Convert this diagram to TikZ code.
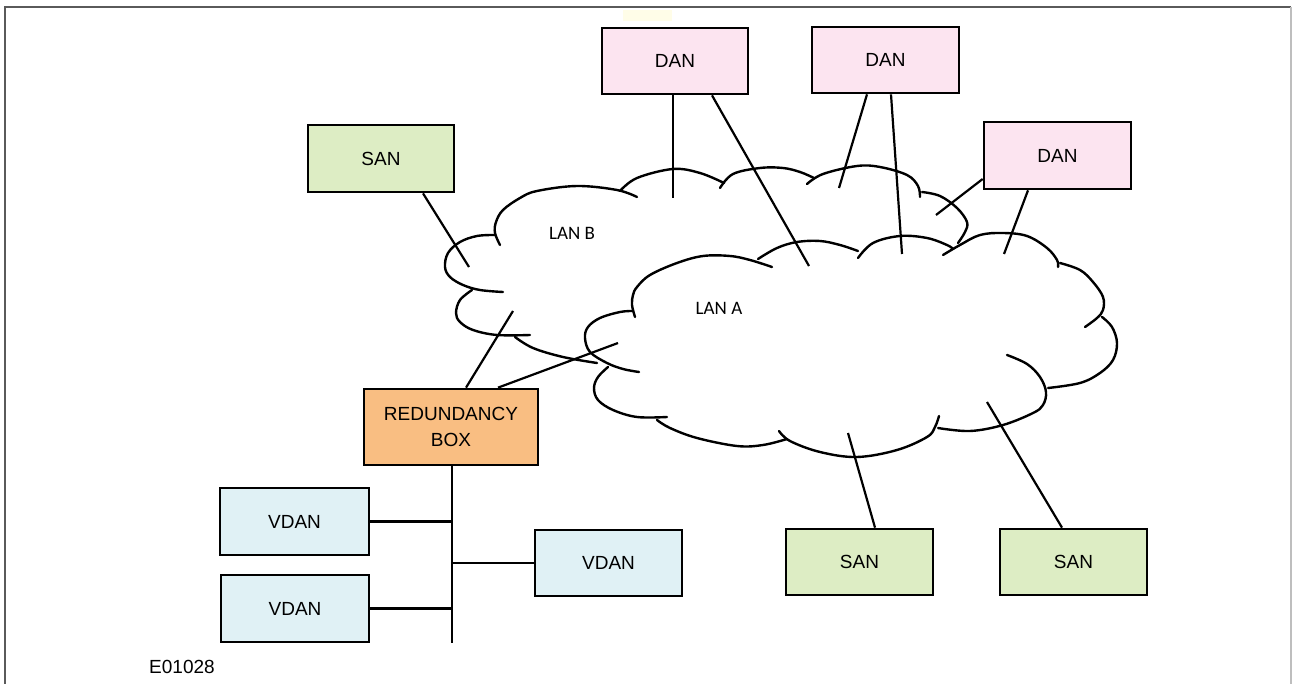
\documentclass[tikz,border=0pt]{standalone}
\usepackage{fontspec}
\setmainfont{Liberation Sans}
\newfontfamily\calib{Carlito}
\usetikzlibrary{calc}
\definecolor{sanfill}{HTML}{DDEDC4}
\definecolor{danfill}{HTML}{FCE4F0}
\definecolor{redfill}{HTML}{F9BE82}
\definecolor{vdanfill}{HTML}{E0F1F5}
\definecolor{frameA}{RGB}{90,90,90}
\definecolor{frameB}{RGB}{190,190,190}
\definecolor{faint}{RGB}{255,253,232}
\begin{document}
\begin{tikzpicture}[x=1pt,y=-1pt,
  box/.style={draw=black, line width=2.7pt, inner sep=0pt, align=center,
    font=\fontsize{19}{26}\selectfont},
  sanbox/.style={box, fill=sanfill},
  danbox/.style={box, fill=danfill},
  vdanbox/.style={box, fill=vdanfill},
  redbox/.style={box, fill=redfill},
  conn/.style={line width=2.2pt},
  cl/.style={line width=2.4pt, line cap=round},
  lanlabel/.style={inner sep=0pt, font=\calib\fontsize{19}{23}\selectfont}]
\useasboundingbox (0,0) rectangle (1292,684);
\fill[faint] (623,10) rectangle (672,21);
% frame
\draw[frameA, line width=2pt] (5,690) -- (5,7) -- (1291,7);
\draw[frameB, line width=1.5pt] (1291,7) -- (1291,690);

% boxes
\node[sanbox, minimum width=146pt, minimum height=67pt] (sanTL) at (381,158.5) {SAN};
\node[danbox, minimum width=146pt, minimum height=66pt] (dan1) at (675,61) {DAN};
\node[danbox, minimum width=147pt, minimum height=66pt] (dan2) at (885.5,60) {DAN};
\node[danbox, minimum width=147pt, minimum height=67pt] (dan3) at (1057.5,155.5) {DAN};
\node[redbox, minimum width=174pt, minimum height=76pt] (red) at (451,427) {REDUNDANCY\\BOX};
\node[vdanbox, minimum width=147pt, minimum height=66pt] (vdanR) at (608.5,563) {VDAN};
\node[vdanbox, minimum width=149pt, minimum height=67pt] (vdanA) at (294.5,521.5) {VDAN};
\node[vdanbox, minimum width=148pt, minimum height=67pt] (vdanB) at (295,608.5) {VDAN};
\node[sanbox, minimum width=147pt, minimum height=66pt] (san1) at (859.5,562) {SAN};
\node[sanbox, minimum width=147pt, minimum height=66pt] (san2) at (1073.5,562) {SAN};

% labels
\node[lanlabel] (lanB) at (572,233) {LAN B};
\node[lanlabel] (lanA) at (719,308) {LAN A};
\node[inner sep=0pt, font=\fontsize{19}{23}\selectfont] (code) at (182,667) {E01028};

% LAN B cloud
\draw[cl] plot[smooth, tension=0.6] coordinates {(500,245) (495,233) (496,222) (503,210) (520,198) (537,191) (577,186) (617,190) (637,197)};
\draw[cl] plot[smooth, tension=0.6] coordinates {(620,191) (637,178) (673,169) (700,173) (724,183)};
\draw[cl] plot[smooth, tension=0.6] coordinates {(720,188) (733,174) (760,168) (783,168) (800,172) (814,178)};
\draw[cl] plot[smooth, tension=0.6] coordinates {(807,184) (823,174) (857,166) (880,167) (907,175) (918,186) (920,197)};
\draw[cl] plot[smooth, tension=0.6] coordinates {(922,192) (940,196) (957,208) (967,222) (965,232) (958,243)};
\draw[cl] plot[smooth, tension=0.6] coordinates {(495,235) (477,236) (460,242) (448,253) (445,267) (450,277) (463,285) (480,290) (503,292)};
\draw[cl] plot[smooth, tension=0.6] coordinates {(472,290) (460,300) (456,313) (460,322) (473,330) (497,335) (530,335)};
\draw[cl] plot[smooth, tension=0.6] coordinates {(515,337) (533,348) (563,357) (597,363)};

% LAN A cloud
\draw[cl] plot[smooth, tension=0.6] coordinates {(635,317) (632,305) (633,295) (637,287) (650,275) (677,263) (703,256) (730,256) (750,260) (772,267)};
\draw[cl] plot[smooth, tension=0.6] coordinates {(758,259) (777,248) (797,242) (820,241) (840,245) (858,251)};
\draw[cl] plot[smooth, tension=0.6] coordinates {(858,258) (873,243) (900,236) (927,238) (947,245) (953,249)};
\draw[cl] plot[smooth, tension=0.6] coordinates {(943,255) (960,245) (980,235) (1003,233) (1027,236) (1047,248) (1057,260) (1058,267)};
\draw[cl] plot[smooth, tension=0.6] coordinates {(1060,263) (1080,270) (1093,282) (1103,297) (1103,310) (1097,318) (1085,327)};
\draw[cl] plot[smooth, tension=0.6] coordinates {(1102,317) (1112,327) (1117,343) (1113,360) (1100,373) (1080,383) (1048,388)};
\draw[cl] plot[smooth, tension=0.6] coordinates {(1007,355) (1027,364) (1040,377) (1046,392) (1043,405) (1033,413) (1003,425) (970,431) (938,428)};
\draw[cl] plot[smooth, tension=0.6] coordinates {(779,431) (790,441) (820,452) (857,457) (897,450) (927,437) (935,427) (939,416)};
\draw[cl] plot[smooth, tension=0.6] coordinates {(657,420) (670,428) (697,438) (737,446) (763,445) (787,439)};
\draw[cl] plot[smooth, tension=0.6] coordinates {(608,367) (598,377) (594,388) (598,400) (613,410) (637,417) (667,417)};
\draw[cl] plot[smooth, tension=0.6] coordinates {(633,311) (620,312) (600,318) (588,327) (585,338) (590,352) (607,363) (623,369) (639,372)};

% free ends inside the clouds
\coordinate (lbS) at (469,267);
\coordinate (lbD1) at (673,198);
\coordinate (laD1) at (809,266);
\coordinate (lbD2) at (839,188);
\coordinate (laD2) at (902,254);
\coordinate (lbD3) at (936,215);
\coordinate (laD3) at (1004,254);
\coordinate (lbR) at (513,311);
\coordinate (laR) at (618,343);
\coordinate (laS1) at (848,433);
\coordinate (laS2) at (987,402);
\coordinate (busEnd) at (452,643);

% connectors
\draw[conn] ($(sanTL.south)+(42,0)$) -- (lbS);
\draw[conn] ($(dan1.south)+(-2,0)$) -- (lbD1);
\draw[conn] ($(dan1.south)+(37,0)$) -- (laD1);
\draw[conn] ($(dan2.south)+(-18.5,0)$) -- (lbD2);
\draw[conn] ($(dan2.south)+(5.5,0)$) -- (laD2);
\draw[conn] ($(dan3.west)+(0,23.5)$) -- (lbD3);
\draw[conn] ($(dan3.south)+(-29.5,0)$) -- (laD3);
\draw[conn] ($(red.north)+(15,0)$) -- (lbR);
\draw[conn] ($(red.north)+(47,0)$) -- (laR);
\draw[conn] ($(san1.north)+(15.5,0)$) -- (laS1);
\draw[conn] ($(san2.north)+(-11.5,0)$) -- (laS2);

% bus
\draw[conn] (red.south -| busEnd) -- (busEnd);
\draw[conn] (vdanA.east) -- (vdanA.east -| busEnd);
\draw[conn] (vdanR.west) -- (vdanR.west -| busEnd);
\draw[conn] (vdanB.east) -- (vdanB.east -| busEnd);
\end{tikzpicture}
\end{document}
